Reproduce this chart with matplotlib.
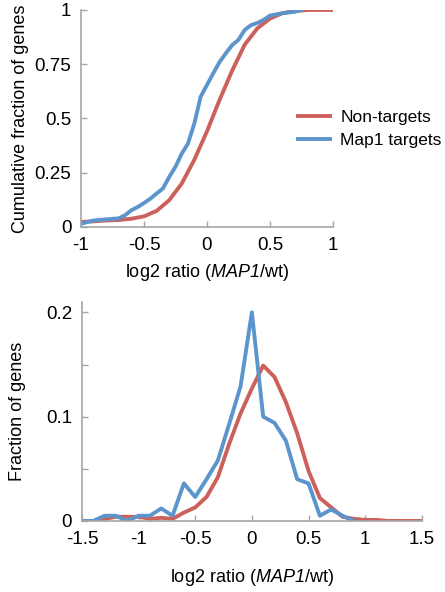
import numpy as np
import matplotlib
matplotlib.use('Agg')
from matplotlib import pyplot as plt
from matplotlib.ticker import MultipleLocator

plt.rcParams['font.family'] = ['Liberation Sans', 'DejaVu Sans']
plt.rcParams['mathtext.fontset'] = 'custom'
plt.rcParams['mathtext.it'] = 'Liberation Sans:italic'
plt.rcParams['mathtext.rm'] = 'Liberation Sans:italic'

red = '#cc615b'
blue = '#5b95cc'
grey = '#a6a6a6'

# cumulative fraction (top panel)
cdf_x_red = [-1, -0.9, -0.8, -0.7, -0.6, -0.5, -0.4, -0.3, -0.2, -0.1, 0, 0.1,
             0.2, 0.3, 0.4, 0.5, 0.6, 0.7, 0.8, 0.9, 1.0]
cdf_red = [0.023, 0.026, 0.03, 0.032, 0.038, 0.049, 0.074, 0.123, 0.2, 0.31, 0.44,
           0.585, 0.72, 0.84, 0.915, 0.96, 0.985, 0.995, 1.0, 1.0, 1.0]
cdf_x_blue = [-1, -0.9, -0.8, -0.7, -0.65, -0.6, -0.55, -0.5, -0.45, -0.4, -0.35,
              -0.3, -0.25, -0.2, -0.15, -0.1, -0.05, 0, 0.05, 0.1, 0.15, 0.2, 0.25,
              0.3, 0.35, 0.4, 0.45, 0.5, 0.6, 0.7, 0.75]
cdf_blue = [0.015, 0.03, 0.035, 0.04, 0.054, 0.077, 0.092, 0.11, 0.13, 0.154, 0.177,
            0.23, 0.277, 0.338, 0.385, 0.477, 0.6, 0.654, 0.708, 0.76, 0.8, 0.838,
            0.862, 0.908, 0.93, 0.94, 0.954, 0.974, 0.985, 0.992, 1.0]

# fraction of genes (bottom panel)
bins = [-1.5, -1.4, -1.3, -1.2, -1.1, -1.0, -0.9, -0.8, -0.7, -0.6, -0.5, -0.4,
        -0.3, -0.2, -0.1, 0, 0.1, 0.2, 0.3, 0.4, 0.5, 0.6, 0.7, 0.8, 0.9, 1.0,
        1.1, 1.2, 1.3, 1.4, 1.5]
frac_red = [0, 0, 0.002, 0.004, 0.004, 0.004, 0.002, 0.003, 0.002, 0.008, 0.013,
            0.023, 0.042, 0.074, 0.103, 0.127, 0.149, 0.138, 0.114, 0.084, 0.048,
            0.022, 0.013, 0.004, 0.002, 0.001, 0.001, 0, 0, 0, 0]
bins_blue = bins[:25]
frac_blue = [0, 0, 0.005, 0.005, 0, 0.005, 0.005, 0.012, 0.005, 0.036, 0.023,
             0.04, 0.058, 0.093, 0.129, 0.2, 0.1, 0.094, 0.077, 0.04, 0.036,
             0.005, 0.011, 0.005, 0]

xlab = r'log2 ratio ($\mathrm{MAP1}$/wt)'

fig = plt.figure(figsize=(4.45, 5.92), dpi=100)

def style(ax):
    for s in ['top', 'right']:
        ax.spines[s].set_visible(False)
    for s in ['left', 'bottom']:
        ax.spines[s].set_color(grey)
        ax.spines[s].set_linewidth(1.2)
    ax.tick_params(which='both', color=grey, width=1.0, labelsize=13.5,
                   direction='in', length=4, pad=7)

ax1 = fig.add_axes([0.182, 0.6166, 0.566, 0.3666])
ax1.plot(cdf_x_red, cdf_red, color=red, lw=2.8, label='Non-targets')
ax1.plot(cdf_x_blue, cdf_blue, color=blue, lw=2.8, label='Map1 targets')
ax1.set_xlim(-1, 1)
ax1.set_ylim(0, 1)
ax1.set_xticks([-1, -0.5, 0, 0.5, 1])
ax1.set_xticklabels(['-1', '-0.5', '0', '0.5', '1'])
ax1.set_yticks([0, 0.25, 0.5, 0.75, 1])
ax1.set_yticklabels(['0', '0.25', '0.5', '0.75', '1'])
style(ax1)
ax1.set_xlabel(xlab, fontsize=13, labelpad=6)
ax1.set_ylabel('Cumulative fraction of genes', fontsize=13, labelpad=4)
ax1.legend(loc='center left', bbox_to_anchor=(0.654, 0.782), bbox_transform=fig.transFigure,
           frameon=False, fontsize=12.5, handlelength=1.85, handletextpad=0.58,
           labelspacing=0.44, borderaxespad=0)

ax2 = fig.add_axes([0.184, 0.12, 0.764, 0.37])
ax2.plot(bins, frac_red, color=red, lw=2.8)
ax2.plot(bins_blue, frac_blue, color=blue, lw=2.8)
ax2.set_xlim(-1.5, 1.5)
ax2.set_ylim(0, 0.21)
ax2.set_xticks([-1.5, -1, -0.5, 0, 0.5, 1, 1.5])
ax2.set_xticklabels(['-1.5', '-1', '-0.5', '0', '0.5', '1', '1.5'])
ax2.set_yticks([0, 0.1, 0.2])
ax2.set_yticklabels(['0', '0.1', '0.2'])
ax2.yaxis.set_minor_locator(MultipleLocator(0.05))
style(ax2)
ax2.set_xlabel(xlab, fontsize=13, labelpad=14)
ax2.set_ylabel('Fraction of genes', fontsize=13, labelpad=14)

fig.savefig('out.png', dpi=100)
